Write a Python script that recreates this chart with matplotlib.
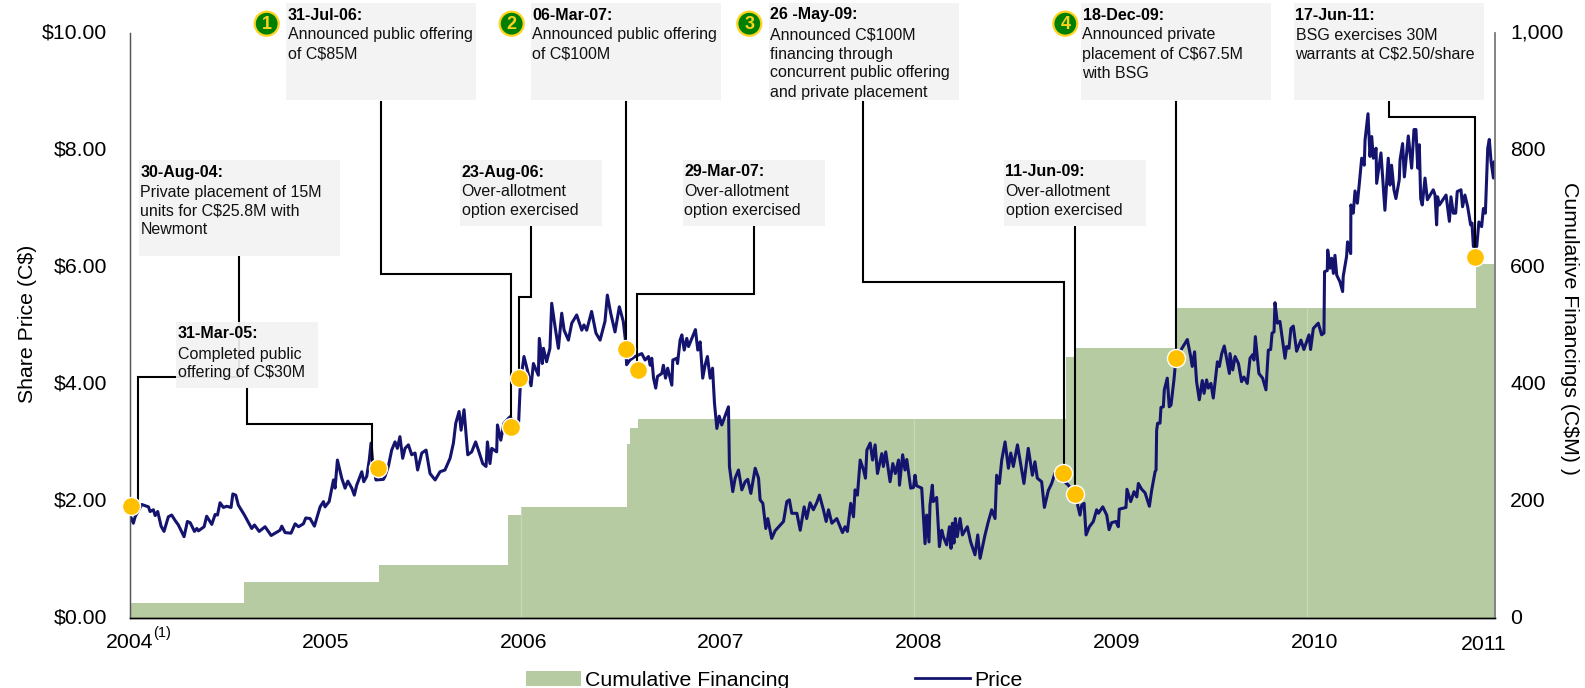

import matplotlib
matplotlib.use('Agg')
import matplotlib.pyplot as plt
from matplotlib.lines import Line2D
from matplotlib.patches import Patch, Rectangle, Circle
from matplotlib.transforms import Affine2D, ScaledTranslation

plt.rcParams['font.family'] = ['Liberation Sans', 'DejaVu Sans']

# Share price
price_years = [
    2004.013, 2004.030, 2004.039, 2004.073, 2004.107, 2004.115, 2004.132, 2004.141, 2004.154, 2004.171,
    2004.186, 2004.208, 2004.225, 2004.242, 2004.259, 2004.288, 2004.305, 2004.319, 2004.341, 2004.353,
    2004.361, 2004.390, 2004.403, 2004.429, 2004.446, 2004.458, 2004.471, 2004.488, 2004.505, 2004.527,
    2004.536, 2004.551, 2004.564, 2004.595, 2004.632, 2004.646, 2004.670, 2004.700, 2004.731, 2004.776,
    2004.785, 2004.802, 2004.832, 2004.853, 2004.870, 2004.895, 2004.907, 2004.929, 2004.951, 2004.980,
    2004.997, 2005.005, 2005.026, 2005.048, 2005.056, 2005.068, 2005.090, 2005.107, 2005.121, 2005.141,
    2005.154, 2005.166, 2005.192, 2005.202,
    2005.217, 2005.230, 2005.239, 2005.247, 2005.264, 2005.302, 2005.310, 2005.327, 2005.344, 2005.361,
    2005.373, 2005.386, 2005.400, 2005.412, 2005.429, 2005.446, 2005.463, 2005.476, 2005.497, 2005.519,
    2005.539, 2005.565, 2005.590, 2005.615, 2005.641, 2005.658, 2005.670, 2005.687, 2005.697, 2005.712,
    2005.731, 2005.751, 2005.771, 2005.790, 2005.807, 2005.824, 2005.831, 2005.844, 2005.853, 2005.878,
    2005.882, 2005.899, 2005.915, 2005.946, 2005.980, 2005.990, 2005.997, 2006.005, 2006.017, 2006.034,
    2006.053, 2006.065, 2006.090, 2006.095, 2006.110, 2006.116, 2006.132, 2006.149, 2006.158, 2006.175,
    2006.192, 2006.209, 2006.221, 2006.243, 2006.260, 2006.285, 2006.311, 2006.322, 2006.336, 2006.361,
    2006.383, 2006.404, 2006.429, 2006.441, 2006.458, 2006.480, 2006.502, 2006.522, 2006.534, 2006.539,
    2006.556, 2006.582,
    2006.616, 2006.633, 2006.650, 2006.659, 2006.667, 2006.676, 2006.687, 2006.696, 2006.718, 2006.726,
    2006.737, 2006.748, 2006.769, 2006.774, 2006.794, 2006.798, 2006.811, 2006.820, 2006.832, 2006.845,
    2006.854, 2006.871, 2006.889, 2006.901, 2006.913, 2006.926, 2006.938, 2006.950, 2006.964, 2006.976,
    2006.986, 2006.998, 2007.010, 2007.023, 2007.045, 2007.057, 2007.062, 2007.079, 2007.091, 2007.108,
    2007.125, 2007.142, 2007.155, 2007.171, 2007.193, 2007.210, 2007.218, 2007.232, 2007.247, 2007.257,
    2007.277, 2007.294, 2007.337, 2007.354, 2007.367, 2007.379, 2007.405, 2007.422, 2007.442, 2007.455,
    2007.472, 2007.489, 2007.506, 2007.520, 2007.540, 2007.554, 2007.566, 2007.583, 2007.608, 2007.637,
    2007.650, 2007.662, 2007.679, 2007.693, 2007.701, 2007.713, 2007.727, 2007.744, 2007.754, 2007.761,
    2007.778, 2007.790, 2007.803, 2007.815, 2007.837, 2007.845, 2007.857, 2007.879, 2007.893, 2007.906,
    2007.922, 2007.927, 2007.943, 2007.955, 2007.964, 2007.984, 2007.998, 2008.006, 2008.014, 2008.040,
    2008.057, 2008.065, 2008.077, 2008.082, 2008.094, 2008.099, 2008.116, 2008.130, 2008.142, 2008.150,
    2008.167, 2008.181, 2008.189, 2008.196, 2008.204, 2008.211, 2008.221, 2008.235, 2008.247, 2008.272,
    2008.289, 2008.311, 2008.325, 2008.337, 2008.362, 2008.379, 2008.396, 2008.413, 2008.421, 2008.435,
    2008.447, 2008.464, 2008.481, 2008.493, 2008.506, 2008.527, 2008.560, 2008.582, 2008.603, 2008.616,
    2008.628, 2008.650, 2008.664, 2008.684, 2008.701, 2008.718, 2008.786, 2008.820, 2008.845, 2008.854,
    2008.866, 2008.876, 2008.893, 2008.913, 2008.930, 2008.939, 2008.961, 2008.981, 2008.993, 2009.006,
    2009.028, 2009.040, 2009.045, 2009.079, 2009.084, 2009.103, 2009.120, 2009.134, 2009.142, 2009.159,
    2009.176, 2009.198, 2009.210, 2009.227, 2009.232, 2009.235, 2009.240, 2009.252, 2009.257, 2009.269,
    2009.274, 2009.289, 2009.299, 2009.308, 2009.323, 2009.333, 2009.391, 2009.408, 2009.416, 2009.428,
    2009.438, 2009.452, 2009.467, 2009.476, 2009.489, 2009.498, 2009.511, 2009.523, 2009.544, 2009.554,
    2009.566, 2009.579, 2009.605, 2009.608, 2009.622, 2009.634, 2009.651, 2009.667, 2009.679, 2009.696,
    2009.710, 2009.723, 2009.730, 2009.737, 2009.755, 2009.774, 2009.791, 2009.803, 2009.815, 2009.822,
    2009.832, 2009.837, 2009.849, 2009.862, 2009.888, 2009.896, 2009.908, 2009.918, 2009.930, 2009.947,
    2009.969, 2009.984, 2010.010, 2010.018, 2010.032, 2010.057, 2010.074, 2010.086, 2010.089, 2010.103,
    2010.105, 2010.117, 2010.125, 2010.134, 2010.142, 2010.151, 2010.167, 2010.181, 2010.184, 2010.201,
    2010.206, 2010.222, 2010.223, 2010.235, 2010.244, 2010.256, 2010.266, 2010.278, 2010.291, 2010.295,
    2010.310, 2010.320, 2010.329, 2010.337, 2010.351, 2010.354, 2010.376, 2010.396, 2010.413, 2010.422,
    2010.430, 2010.442, 2010.452, 2010.469, 2010.473, 2010.486, 2010.495, 2010.515, 2010.532, 2010.544,
    2010.554, 2010.563, 2010.571, 2010.578, 2010.586, 2010.600, 2010.612, 2010.642, 2010.651, 2010.659,
    2010.664, 2010.673, 2010.707, 2010.724, 2010.732, 2010.744, 2010.756, 2010.764, 2010.783, 2010.791,
    2010.803, 2010.817, 2010.832, 2010.839, 2010.846, 2010.863, 2010.874, 2010.888, 2010.897, 2010.907,
    2010.919, 2010.927, 2010.936, 2010.948, 2010.952, 2010.956,
]
price_values = [
    1.76, 1.62, 1.73, 1.94, 1.90, 1.82, 1.85, 1.75, 1.82, 1.57,
    1.48, 1.73, 1.76, 1.67, 1.59, 1.39, 1.65, 1.63, 1.48, 1.53,
    1.49, 1.56, 1.74, 1.60, 1.77, 1.76, 1.97, 1.89, 1.91, 1.89,
    2.12, 2.10, 1.93, 1.76, 1.53, 1.59, 1.48, 1.56, 1.41, 1.50,
    1.57, 1.46, 1.45, 1.61, 1.56, 1.61, 1.71, 1.70, 1.57, 1.90,
    1.99, 1.90, 1.99, 2.36, 2.22, 2.70, 2.39, 2.22, 2.34, 2.22,
    2.10, 2.27, 2.50, 2.33,
    2.42, 2.70, 2.99, 2.67, 2.36, 2.37, 2.42, 2.59, 2.87, 3.01,
    2.90, 3.10, 2.73, 2.90, 2.96, 2.79, 2.82, 2.53, 2.82, 2.87,
    2.47, 2.36, 2.50, 2.53, 2.73, 2.99, 3.33, 3.53, 3.21, 3.56,
    2.79, 2.84, 3.01, 2.82, 2.64, 2.59, 3.01, 2.64, 2.90, 2.84,
    3.30, 3.04, 3.33, 3.44, 3.27, 3.36, 3.90, 4.18, 4.47, 4.24,
    3.97, 4.35, 4.15, 4.78, 4.35, 4.61, 4.38, 4.61, 5.38, 4.98,
    4.61, 5.21, 4.92, 4.75, 5.04, 5.18, 4.92, 5.01, 4.92, 5.24,
    4.87, 4.75, 5.07, 5.52, 5.21, 4.89, 5.32, 5.07, 4.72, 4.33,
    4.41, 4.47,
    4.52, 4.41, 4.47, 4.32, 4.44, 4.10, 3.93, 4.13, 4.18, 4.32,
    4.10, 4.27, 3.98, 4.41, 4.44, 4.35, 4.75, 4.84, 4.58, 4.78,
    4.64, 4.78, 4.93, 4.58, 4.72, 4.10, 4.32, 4.47, 4.10, 4.27,
    3.67, 3.24, 3.45, 3.30, 3.50, 3.61, 2.59, 2.16, 2.39, 2.53,
    2.19, 2.33, 2.37, 2.13, 2.56, 2.39, 2.02, 1.96, 1.53, 1.70,
    1.36, 1.49, 1.65, 1.99, 2.02, 1.79, 1.79, 1.50, 1.90, 1.70,
    1.97, 1.85, 1.97, 2.10, 1.85, 1.65, 1.85, 1.62, 1.70, 1.46,
    1.56, 1.48, 1.96, 1.73, 2.19, 2.10, 2.70, 2.53, 2.39, 2.87,
    2.99, 2.70, 2.96, 2.47, 2.81, 2.59, 2.84, 2.33, 2.64, 2.47,
    2.70, 2.27, 2.79, 2.53, 2.71, 2.22, 2.23, 2.44, 2.26, 2.22,
    1.27, 1.76, 1.30, 1.93, 2.27, 1.99, 2.06, 1.22, 1.50, 1.39,
    1.25, 1.56, 1.19, 1.62, 1.28, 1.70, 1.39, 1.70, 1.42, 1.56,
    1.30, 1.08, 1.42, 1.02, 1.42, 1.65, 1.85, 1.70, 2.44, 2.30,
    2.70, 3.01, 2.56, 2.82, 2.59, 2.96, 2.30, 2.90, 2.44, 2.67,
    2.39, 2.33, 1.89, 2.18, 2.30, 2.48, 2.27, 2.12, 1.76, 1.93,
    1.96, 1.42, 1.56, 1.65, 1.85, 1.79, 1.90, 1.76, 1.51, 1.63,
    1.65, 1.56, 1.86, 1.89, 2.20, 1.99, 2.16, 2.07, 2.30, 2.20,
    2.14, 1.91, 2.19, 2.50, 2.53, 3.21, 3.33, 3.33, 3.60, 3.61,
    3.90, 4.10, 3.61, 3.64, 4.07, 4.44, 4.76, 4.47, 4.30, 4.55,
    4.04, 3.73, 4.06, 3.84, 4.07, 3.93, 4.01, 3.76, 4.38, 4.30,
    4.52, 4.65, 4.18, 4.52, 4.24, 4.47, 4.35, 4.04, 4.12, 4.01,
    4.44, 4.50, 4.41, 4.81, 4.18, 4.10, 3.90, 4.58, 4.59, 4.87,
    4.89, 5.39, 5.04, 5.07, 4.44, 4.64, 4.61, 4.95, 4.99, 4.56,
    4.75, 4.59, 4.84, 4.59, 4.95, 5.04, 4.84, 4.87, 5.92, 5.94,
    6.29, 5.98, 6.15, 5.89, 6.20, 5.86, 5.75, 5.58, 5.84, 6.18,
    6.43, 6.23, 7.06, 6.92, 7.30, 7.09, 7.43, 7.86, 7.74, 8.17,
    8.62, 7.89, 8.23, 7.86, 8.03, 7.43, 7.95, 6.97, 7.86, 7.40,
    7.74, 7.32, 7.17, 7.49, 7.83, 8.11, 7.54, 8.24, 7.69, 8.35,
    8.35, 7.69, 8.09, 7.17, 7.06, 7.52, 7.15, 7.32, 7.23, 6.72,
    7.20, 7.06, 7.23, 6.78, 7.20, 6.92, 6.92, 7.29, 7.32, 7.03,
    7.23, 7.03, 6.72, 6.75, 6.35, 6.35, 6.77, 6.69, 7.00, 6.92,
    8.03, 8.18, 7.80, 7.52, 7.80, 7.70,
]

# Cumulative financing steps (C$M)
fin_years = [2004.013, 2004.593, 2005.281, 2005.935, 2006.000, 2006.541, 2006.556, 2006.597,
             2008.774, 2008.823, 2009.333, 2010.858, 2010.956]
fin_values = [25.8, 61, 91, 176, 189, 297, 325, 341, 446, 461, 530, 605, 605]
seam_years = [2006, 2008, 2010]
seam_heights = [189, 341, 530]

# Financing events on the price line
event_years = [2004.018, 2005.276, 2005.951, 2005.993, 2006.536, 2006.596, 2008.761, 2008.820, 2009.334, 2010.852]
event_prices = [1.91, 2.56, 3.26, 4.11, 4.60, 4.24, 2.48, 2.12, 4.44, 6.17]

# Axis labels
price_ticks = [0, 2, 4, 6, 8, 10]
price_labels = ['$0.00', '$2.00', '$4.00', '$6.00', '$8.00', '$10.00']
fin_ticks = [0, 200, 400, 600, 800, 1000]
fin_labels = ['0', '200', '400', '600', '800', '1,000']
year_ticks = [2004.013, 2005.010, 2006.017, 2007.019, 2008.026, 2009.033, 2010.039, 2010.900]
year_labels = ['2004', '2005', '2006', '2007', '2008', '2009', '2010', '2011']

# Callout text
note_dates = ['30-Aug-04:', '31-Mar-05:', '31-Jul-06:', '23-Aug-06:', '06-Mar-07:',
              '29-Mar-07:', '26 -May-09:', '11-Jun-09:', '18-Dec-09:', '17-Jun-11:']
note_lines = [
    ['Private placement of 15M', 'units for C$25.8M with', 'Newmont'],
    ['Completed public', 'offering of C$30M'],
    ['Announced public offering', 'of C$85M'],
    ['Over-allotment', 'option exercised'],
    ['Announced public offering', 'of C$100M'],
    ['Over-allotment', 'option exercised'],
    ['Announced C$100M', 'financing through', 'concurrent public offering', 'and private placement'],
    ['Over-allotment', 'option exercised'],
    ['Announced private', 'placement of C$67.5M', 'with BSG'],
    ['BSG exercises 30M', 'warrants at C$2.50/share'],
]
badge_labels = ['1', '2', '3', '4']

# Layout of the callouts, in figure pixels
note_boxes = [(139, 160, 340, 256), (176, 322, 318, 388), (286, 3, 476, 100), (460, 160, 602, 226),
              (531, 3, 721, 100), (683, 160, 825, 226), (769, 3, 959, 100), (1004, 160, 1146, 226),
              (1081, 3, 1271, 100), (1294, 3, 1484, 100)]
leaders = [
    [(239, 257), (239, 377), (137.7, 377), (137.7, 500)],
    [(247.3, 389), (247.3, 423.7), (372, 423.7), (372, 461)],
    [(381.3, 102), (381.3, 273.7), (511, 273.7), (511, 420)],
    [(531.3, 227), (531.3, 297), (519.3, 297), (519.3, 370)],
    [(626.3, 102), (626.3, 340)],
    [(754.3, 227), (754.3, 293.7), (637.3, 293.7), (637.3, 362)],
    [(863.3, 102), (863.3, 282.3), (1063.8, 282.3), (1063.8, 465)],
    [(1075, 227), (1075, 487)],
    [(1176, 102), (1176, 350)],
    [(1389, 102), (1389, 116.7), (1474.5, 116.7), (1474.5, 250)],
]
badge_x = [266.7, 511.7, 749.3, 1065.3]

W, H = 1585, 688
LEFT, RIGHT, TOP, BOTTOM = 130, 1495, 33, 618
fig = plt.figure(figsize=(W / 100, H / 100), dpi=100)
px = Affine2D().scale(1 / W, -1 / H).translate(0, 1) + fig.transFigure

# financing goes on the lower axes so the price line stays on top of it
ax_fin = fig.add_axes([LEFT / W, 1 - BOTTOM / H, (RIGHT - LEFT) / W, (BOTTOM - TOP) / H])
ax = ax_fin.twinx()
ax.patch.set_visible(False)

FILL = '#b7cba3'
NAVY = '#14146e'
ax_fin.fill_between(fin_years, fin_values, step='post', color=FILL, lw=0)
ax_fin.vlines(seam_years, 0, seam_heights, color='#c9d7ba', lw=0.8)
ax.plot(price_years, price_values, color=NAVY, lw=2.2, solid_joinstyle='round', zorder=2)

# leader lines and boxes
for pts in leaders:
    ax.plot([p[0] for p in pts], [p[1] for p in pts], color='black', lw=1.5, transform=px,
            clip_on=False, zorder=3, solid_joinstyle='miter')
for (x0, y0, x1, y1), date, lines in zip(note_boxes, note_dates, note_lines):
    ax.add_patch(Rectangle((x0, y0), x1 - x0, y1 - y0, fc='#f4f3f2', ec='none', alpha=0.92,
                           transform=px, clip_on=False, zorder=4))
    ax.text(x0 + 1.5, y0 + 12, date, fontsize=11.5, fontweight='bold', color='black', va='center',
            transform=px, clip_on=False, zorder=5)
    for i, line in enumerate(lines):
        ax.text(x0 + 1.5, y0 + 32 + 19 * i, line, fontsize=11.5, color='#111111', va='center',
                transform=px, clip_on=False, zorder=5)

ax.plot(event_years, event_prices, ls='none', marker='o', ms=13, mfc='#ffc000', mec='white', mew=1,
        clip_on=False, zorder=6)

# numbered badges
for x, label in zip(badge_x, badge_labels):
    ax.add_patch(Circle((x, 23.7), 12, fc='#008000', ec='#ffd21f', lw=1.6, transform=px, clip_on=False, zorder=5))
    ax.text(x, 24.5, label, fontsize=13, fontweight='bold', color='#ffd21f', ha='center', va='center',
            transform=px, zorder=6)

# axes
ax.set_xlim(2004.013, 2010.956)
ax.set_ylim(0, 10)
ax_fin.set_ylim(0, 1000)
ax.yaxis.tick_left()
ax.yaxis.set_label_position('left')
ax_fin.yaxis.tick_right()
ax_fin.yaxis.set_label_position('right')
ax.set_yticks(price_ticks, price_labels, fontsize=15.3)
ax_fin.set_yticks(fin_ticks, fin_labels, fontsize=15.3)
ax_fin.set_xticks(year_ticks, year_labels, fontsize=15.3)
ax.tick_params(axis='y', length=0, pad=16.5)
ax_fin.tick_params(axis='y', length=0, pad=11)
ax_fin.tick_params(axis='x', length=0, pad=11)
ax.tick_params(axis='x', length=0, labelbottom=False)
ax_fin.xaxis.get_major_ticks()[-1].set_pad(12.5)

# the y labels sit a little above their ticks in the original
up = ScaledTranslation(0, 0.02, fig.dpi_scale_trans)
for lab in ax.get_yticklabels() + ax_fin.get_yticklabels():
    lab.set_transform(lab.get_transform() + up)

ax.text(28, 324, 'Share Price (C$)', fontsize=15.3, rotation=90, ha='center', va='center', transform=px, clip_on=False)
ax.text(1570, 329, 'Cumulative Financings (C$M) )', fontsize=15.3, rotation=270, ha='center', va='center',
        transform=px, clip_on=False)
ax.text(153, 640, '(1)', fontsize=10.5, va='bottom', transform=px, clip_on=False)

for a in (ax, ax_fin):
    a.spines['top'].set_visible(False)
    a.spines['left'].set_color('#555555')
    a.spines['left'].set_linewidth(0.9)
    a.spines['right'].set_color('#808080')
    a.spines['right'].set_linewidth(1.1)
    a.spines['bottom'].set_color('black')
    a.spines['bottom'].set_linewidth(1.0)

handles = [Patch(fc=FILL, ec='none'), Line2D([0], [0], color=NAVY, lw=2.0)]
ax.legend(handles, ['Cumulative Financing', 'Price'], ncol=2, frameon=False, fontsize=15.3, loc='center left',
          bbox_to_anchor=(526, 680), bbox_transform=px, borderpad=0, borderaxespad=0,
          handlelength=2.57, handleheight=0.7, handletextpad=0.22, columnspacing=5.9)

fig.savefig('out.png', dpi=100)
